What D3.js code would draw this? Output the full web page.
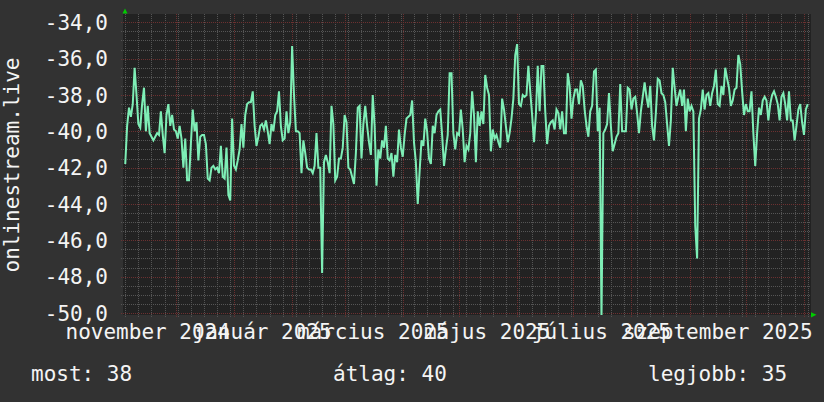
<!DOCTYPE html>
<html>
<head>
<meta charset="utf-8">
<script src="https://cdn.jsdelivr.net/npm/d3@7"></script>
<style>
  body { margin: 0; background: #323232; }
  svg { display: block; }
  text { font-family: "DejaVu Sans Mono", monospace; font-size: 21px; fill: #f4f4f4; }
</style>
</head>
<body>
<svg id="chart" width="824" height="402"></svg>
<script>
// onlinestream.live — daily values, one per day from 2024-11-04
const TITLE = "onlinestream.live";
const FIRST_DAY = new Date(2024, 10, 4);
const X_DOMAIN = [new Date(2024, 10, 3, 8), new Date(2025, 10, 4, 5)];
const Y_DOMAIN = [-50, -34];
const Y_TICKS = [-50, -48, -46, -44, -42, -40, -38, -36, -34];

const novDec = [
  -41.8, -39.7, -38.7, -39.2, -38.5, -36.5, -38.0, -39.6, -39.8, -38.5,
  -37.6, -40.0, -38.6, -40.1, -40.3, -40.5, -40.3, -40.1, -40.2, -38.9,
  -40.2, -41.2, -39.1, -38.5, -39.7, -39.1, -39.9, -40.0, -40.4, -39.7,
  -40.4, -42.0, -40.4, -42.7, -42.7, -40.7, -38.8, -40.0, -39.5, -41.6,
  -40.3, -40.2, -40.2, -40.7, -42.6, -42.7, -42.0, -41.9, -42.1, -42.0,
  -42.3, -40.8, -42.5, -42.6, -40.9, -43.5, -43.8, -39.3, -41.9, -42.1
];
const janFeb = [
  -41.6, -41.0, -39.6, -40.9, -39.1, -38.5, -38.4, -38.4, -37.8, -39.7,
  -40.8, -40.3, -39.7, -39.6, -39.9, -39.4, -40.0, -40.7, -39.6, -40.0,
  -39.1, -38.9, -37.8, -39.7, -40.5, -40.4, -38.9, -40.1, -39.5, -35.3,
  -38.0, -40.0, -40.0, -40.1, -42.3, -40.5, -41.2, -42.0, -42.1, -42.1,
  -42.3, -41.9, -40.1, -42.0, -42.0, -47.8, -41.7, -41.3, -41.7, -42.3,
  -38.6, -39.6, -42.7, -42.5, -41.5, -41.5, -40.9, -39.1, -39.5, -42.0,
  -42.1, -42.5
];
const marApr = [
  -42.9, -41.2, -38.7, -38.6, -41.5, -39.6, -38.6, -39.7, -40.6, -41.3,
  -38.0, -39.7, -43.0, -41.0, -41.5, -40.5, -40.9, -39.7, -41.5, -41.6,
  -41.2, -42.5, -41.3, -41.7, -39.9, -40.9, -41.4, -40.2, -39.3, -39.2,
  -39.1, -38.3, -40.6, -41.7, -44.0, -42.2, -40.5, -40.8, -39.3, -40.0,
  -41.5, -41.8, -39.7, -40.1, -39.1, -38.9, -38.8, -40.2, -41.9, -41.0,
  -40.2, -36.8, -36.8, -40.1, -41.0, -40.1, -40.2, -38.8, -39.9, -41.7,
  -40.8
];
const mayJun = [
  -41.0, -40.1, -37.8, -39.1, -41.7, -38.9, -39.7, -38.9, -39.6, -36.9,
  -37.6, -38.0, -41.1, -39.9, -40.4, -40.2, -40.6, -40.9, -38.2, -38.8,
  -39.7, -40.6, -40.1, -39.3, -38.2, -35.8, -35.2, -38.5, -38.6, -38.0,
  -38.1, -38.0, -36.4, -37.8, -39.1, -40.6, -39.1, -36.4, -38.9, -36.4,
  -36.4, -38.9, -40.7, -39.7, -39.5, -39.4, -39.9, -38.8, -39.0, -39.9,
  -38.9, -40.1, -40.1, -36.8, -37.5, -39.3, -38.2, -37.7, -37.7, -38.5,
  -37.2, -37.5, -38.8
];
const julAug = [
  -39.7, -40.3, -38.9, -38.6, -36.7, -36.6, -40.0, -38.7, -50.3, -40.1,
  -39.9, -39.6, -37.9, -39.7, -41.1, -40.7, -40.3, -40.1, -37.4, -40.0,
  -40.0, -40.0, -37.6, -37.7, -38.8, -38.2, -38.1, -39.0, -40.1, -38.9,
  -38.1, -37.3, -38.1, -38.7, -37.5, -39.7, -40.5, -39.0, -37.1, -37.2,
  -37.9, -38.0, -38.4, -39.6, -40.8, -39.4, -36.5, -37.6, -38.6, -38.1,
  -37.7, -38.6, -37.7, -40.0, -38.2, -38.9, -38.6, -38.9, -45.2, -47.0,
  -39.3, -38.8, -37.7
];
const sepOct = [
  -38.8, -38.0, -37.9, -38.6, -37.9, -37.5, -36.6, -38.5, -38.6, -37.5,
  -38.0, -36.5, -37.1, -37.6, -38.6, -38.3, -37.7, -37.6, -35.8, -36.3,
  -37.8, -39.1, -38.5, -38.9, -38.9, -37.8, -40.1, -41.9, -40.1, -38.7,
  -39.1, -38.3, -38.1, -38.3, -39.4, -38.5, -38.0, -37.8, -38.1,
  -38.5, -39.4, -38.1, -37.9, -38.5, -39.4, -37.8, -39.4, -39.4, -40.5,
  -39.7, -38.8, -38.5, -39.5, -40.2, -38.8, -38.5
];

const MONTHS = ["január", "február", "március", "április", "május", "június",
  "július", "augusztus", "szeptember", "október", "november", "december"];
const LEGEND = [["most", 38], ["átlag", 40], ["legjobb", 35]];

(function () {
  const svg = d3.select("#chart");
  const X0 = 124, X1 = 810, YTOP = 22.3, YBOT = 313;

  const values = [].concat(novDec, janFeb, marApr, mayJun, julAug, sepOct);
  const data = values.map((v, i) => ({ t: d3.timeDay.offset(FIRST_DAY, i), v }));

  const x = d3.scaleTime().domain(X_DOMAIN).range([X0, X1]);
  const y = d3.scaleLinear().domain(Y_DOMAIN).range([YBOT, YTOP]);

  const huTime = d3.timeFormatLocale({
    dateTime: "%Y. %B %-e. %X", date: "%Y. %m. %d.", time: "%H:%M:%S",
    periods: ["de.", "du."],
    days: ["vasárnap", "hétfő", "kedd", "szerda", "csütörtök", "péntek", "szombat"],
    shortDays: ["V", "H", "K", "Sze", "Cs", "P", "Szo"],
    months: MONTHS,
    shortMonths: ["jan.", "febr.", "márc.", "ápr.", "máj.", "jún.", "júl.", "aug.", "szept.", "okt.", "nov.", "dec."]
  });
  const fmtMonth = huTime.format("%B %Y");
  const fmtY = d3.formatLocale({ decimal: ",", thousands: " ", grouping: [3], currency: ["", ""], minus: "-" }).format(".1f");

  const crisp = (p) => Math.round(p) + 0.5;

  // plot background
  svg.append("rect").attr("x", 123).attr("y", 14).attr("width", 688).attr("height", 301).attr("fill", "#222222");

  const grid = svg.append("g").attr("shape-rendering", "crispEdges").attr("fill", "none");
  const minorColor = "#555555", majorColor = "#6c3030";

  // horizontal minor
  const minorY = d3.range(Y_DOMAIN[0], Y_DOMAIN[1] + 0.01, 0.5).filter((v) => !Y_TICKS.includes(v));
  grid.selectAll("line.hmin").data(minorY).join("line")
    .attr("x1", 121).attr("x2", X1).attr("y1", (d) => crisp(y(d))).attr("y2", (d) => crisp(y(d)))
    .attr("stroke", minorColor).attr("stroke-dasharray", "1,1");

  // vertical minor (weeks)
  const weeks = d3.timeMonday.range(X_DOMAIN[0], X_DOMAIN[1]).filter((d) => d.getDate() !== 1);
  grid.selectAll("line.vmin").data(weeks).join("line")
    .attr("x1", (d) => crisp(x(d))).attr("x2", (d) => crisp(x(d))).attr("y1", 14).attr("y2", 317)
    .attr("stroke", minorColor).attr("stroke-dasharray", "1,1");

  // major grid
  grid.selectAll("line.hmaj").data(Y_TICKS).join("line")
    .attr("x1", 121).attr("x2", X1).attr("y1", (d) => crisp(y(d))).attr("y2", (d) => crisp(y(d)))
    .attr("stroke", majorColor).attr("stroke-dasharray", "1,1");

  const months = d3.timeMonth.range(X_DOMAIN[0], X_DOMAIN[1]);
  grid.selectAll("line.vmaj").data(months).join("line")
    .attr("x1", (d) => crisp(x(d))).attr("x2", (d) => crisp(x(d))).attr("y1", 14).attr("y2", 318)
    .attr("stroke", majorColor).attr("stroke-dasharray", "1,1");

  // series line
  svg.append("clipPath").attr("id", "plotclip")
    .append("rect").attr("x", 123).attr("y", 14).attr("width", 688).attr("height", 301);

  const line = d3.line().x((d) => x(d.t)).y((d) => y(d.v));
  svg.append("path").datum(data)
    .attr("clip-path", "url(#plotclip)")
    .attr("d", line)
    .attr("fill", "none")
    .attr("stroke", "#7eeeb6")
    .attr("stroke-width", 2)
    .attr("stroke-linejoin", "miter");

  // axis arrows
  svg.append("path").attr("d", `M${X0 + 1},8.5 L${X0 - 1.5},13.5 L${X0 + 3.5},13.5 Z`).attr("fill", "#00cc00");
  svg.append("path").attr("d", `M816.5,314.8 L811,312.2 L811,317.4 Z`).attr("fill", "#00cc00");

  // y tick labels
  svg.append("g").selectAll("text").data(Y_TICKS).join("text")
    .attr("x", 108).attr("y", (d) => y(d)).attr("dy", "0.36em")
    .attr("text-anchor", "end")
    .text((d) => fmtY(d));

  // x labels: every second month, centred half a month in
  const labelMonths = d3.timeMonth.range(d3.timeMonth.floor(X_DOMAIN[0]), X_DOMAIN[1])
    .filter((d) => d.getMonth() % 2 === 0 && x(d3.timeDay.offset(d, 15)) < X1);
  svg.append("g").selectAll("text").data(labelMonths).join("text")
    .attr("x", (d) => x(d3.timeDay.offset(d, 15)))
    .attr("y", 339)
    .attr("text-anchor", "middle")
    .text((d) => fmtMonth(d));

  // vertical title
  svg.append("text")
    .attr("transform", "translate(19,165) rotate(-90)")
    .attr("text-anchor", "middle")
    .text(TITLE);

  // legend
  const legendX = [31, 333, 648];
  svg.append("g").selectAll("text").data(LEGEND).join("text")
    .attr("x", (d, i) => legendX[i]).attr("y", 381)
    .text((d) => `${d[0]}: ${d[1]}`);
})();
</script>
</body>
</html>
